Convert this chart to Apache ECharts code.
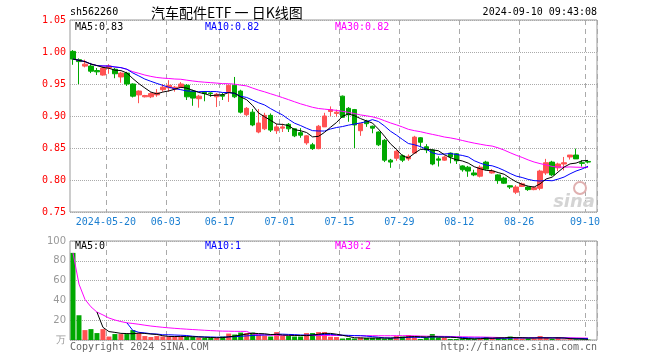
<!DOCTYPE html>
<html><head><meta charset="utf-8">
<script src="https://cdn.jsdelivr.net/npm/echarts@6/dist/echarts.min.js"></script>
<style>html,body{margin:0;padding:0;background:#fff}#c{width:660px;height:360px}</style>
</head><body><div id="c"></div>
<script>
const dates = [
'2024-05-10','2024-05-13','2024-05-14','2024-05-15','2024-05-16','2024-05-17','2024-05-20','2024-05-21','2024-05-22','2024-05-23','2024-05-24','2024-05-27','2024-05-28','2024-05-29','2024-05-30','2024-05-31',
'2024-06-03','2024-06-04','2024-06-05','2024-06-06','2024-06-07','2024-06-11','2024-06-12','2024-06-13','2024-06-14','2024-06-17','2024-06-18','2024-06-19','2024-06-20','2024-06-21','2024-06-24','2024-06-25','2024-06-26','2024-06-27','2024-06-28',
'2024-07-01','2024-07-02','2024-07-03','2024-07-04','2024-07-05','2024-07-08','2024-07-09','2024-07-10','2024-07-11','2024-07-12','2024-07-15','2024-07-16','2024-07-17','2024-07-18','2024-07-19','2024-07-22','2024-07-23','2024-07-24','2024-07-25','2024-07-26','2024-07-29','2024-07-30','2024-07-31',
'2024-08-01','2024-08-02','2024-08-05','2024-08-06','2024-08-07','2024-08-08','2024-08-09','2024-08-12','2024-08-13','2024-08-14','2024-08-15','2024-08-16','2024-08-19','2024-08-20','2024-08-21','2024-08-22','2024-08-23','2024-08-26','2024-08-27','2024-08-28','2024-08-29','2024-08-30',
'2024-09-02','2024-09-03','2024-09-04','2024-09-05','2024-09-06','2024-09-09','2024-09-10'];
const opens = [
1.001,0.988,0.978,0.978,0.971,0.964,0.975,0.973,0.961,0.967,0.950,0.933,0.930,0.930,0.933,0.941,
0.944,0.942,0.945,0.948,0.939,0.927,0.937,0.936,0.930,0.933,0.938,0.948,0.939,0.902,0.906,0.875,0.880,0.901,0.877,
0.881,0.887,0.880,0.874,0.858,0.855,0.849,0.883,0.907,0.904,0.931,0.912,0.910,0.877,0.892,0.884,0.875,0.862,0.831,0.834,0.838,0.833,0.842,
0.866,0.852,0.847,0.833,0.831,0.842,0.841,0.822,0.820,0.811,0.806,0.828,0.811,0.808,0.803,0.791,0.781,0.790,0.789,0.785,0.787,0.811,
0.828,0.819,0.825,0.836,0.839,0.827,0.829];
const closes = [
0.989,0.985,0.981,0.970,0.969,0.975,0.978,0.966,0.967,0.950,0.931,0.939,0.932,0.935,0.936,0.945,
0.948,0.945,0.950,0.930,0.928,0.931,0.935,0.935,0.934,0.931,0.948,0.930,0.906,0.912,0.886,0.889,0.901,0.878,0.883,
0.883,0.880,0.869,0.870,0.869,0.849,0.884,0.900,0.910,0.906,0.898,0.902,0.886,0.888,0.888,0.881,0.855,0.831,0.828,0.845,0.831,0.837,0.867,
0.859,0.847,0.825,0.831,0.836,0.836,0.830,0.816,0.814,0.808,0.820,0.817,0.814,0.799,0.795,0.789,0.789,0.794,0.785,0.788,0.814,0.827,
0.808,0.825,0.827,0.839,0.833,0.826,0.828];
const lows = [
0.980,0.950,0.976,0.967,0.964,0.963,0.966,0.959,0.952,0.947,0.929,0.920,0.929,0.928,0.930,0.938,
0.938,0.938,0.944,0.925,0.916,0.913,0.923,0.930,0.914,0.925,0.922,0.928,0.904,0.900,0.884,0.873,0.878,0.875,0.872,
0.875,0.875,0.867,0.866,0.855,0.847,0.848,0.883,0.900,0.899,0.897,0.891,0.850,0.869,0.883,0.873,0.853,0.828,0.819,0.830,0.828,0.830,0.841,
0.851,0.842,0.823,0.821,0.830,0.826,0.825,0.813,0.805,0.806,0.804,0.816,0.810,0.794,0.794,0.786,0.778,0.789,0.783,0.784,0.784,0.808,
0.806,0.814,0.815,0.832,0.833,0.821,0.826];
const highs = [
1.003,0.990,0.988,0.983,0.975,0.977,0.981,0.975,0.969,0.969,0.951,0.940,0.933,0.937,0.942,0.950,
0.956,0.947,0.953,0.950,0.941,0.933,0.939,0.937,0.936,0.936,0.949,0.961,0.941,0.914,0.911,0.911,0.905,0.904,0.888,
0.888,0.889,0.881,0.881,0.870,0.858,0.886,0.905,0.915,0.910,0.932,0.914,0.911,0.889,0.894,0.885,0.876,0.864,0.833,0.847,0.840,0.840,0.869,
0.867,0.856,0.848,0.837,0.838,0.843,0.842,0.823,0.822,0.816,0.823,0.830,0.817,0.809,0.805,0.792,0.792,0.796,0.790,0.790,0.816,0.833,
0.830,0.827,0.836,0.839,0.849,0.831,0.830];
const volumes = [
88,25,10,11,7,11,3.5,6,6,6,10,7,4,3,4,3.5,
3.5,3.5,3.5,3,3,2.5,2,2,2,3.5,6.5,5.5,7.5,7,7.5,5,4.5,3.5,8,
4,4,3.5,3.5,7,7,8,8,3.3,3,1.5,2,1.5,2.5,2,2,2,1.5,2,4,3.5,5,3,
1,2.5,6,2.5,2,1,1,1.5,1.5,1,1.5,3,2,3,1.5,3.5,2,1.5,1.5,1.5,4,2,
1,2.5,0.5,0.8,0.6,0.7,0.4];
const labelDates = ['2024-05-20','2024-06-03','2024-06-17','2024-07-01','2024-07-15','2024-07-29','2024-08-12','2024-08-26','2024-09-10'];
const priceTicks = {min: 0.75, max: 1.05, step: 0.05};
const volTicks = {min: 0, max: 100, step: 20};

const RED = '#ff5252', GREEN = '#00a800';
const MONO = '"DejaVu Sans Mono", monospace';
const cats = dates.concat(['']);
const labelIdx = labelDates.map(d => dates.indexOf(d));
function ma(arr, n, partial) {
  return arr.map((_, i) => {
    if (!partial && i < n - 1) return null;
    const s = Math.max(0, i - n + 1);
    let sum = 0;
    for (let j = s; j <= i; j++) sum += arr[j];
    return +(sum / (i - s + 1)).toFixed(4);
  });
}
const kdata = dates.map((d, i) => [opens[i], closes[i], lows[i], highs[i]]);
const vdata = volumes.map((v, i) => ({value: v, itemStyle: {color: closes[i] >= opens[i] ? RED : GREEN}}));

const chart = echarts.init(document.getElementById('c'), null, {renderer: 'canvas'});
const grids = [
  {left: 70, top: 20, width: 527, height: 192, show: true, borderColor: '#999', borderWidth: 1, backgroundColor: '#fff'},
  {left: 70, top: 241, width: 527, height: 99, show: true, borderColor: '#999', borderWidth: 1, backgroundColor: '#fff'}
];
function xAx(gi, showLabels) {
  return {
    type: 'category', gridIndex: gi, data: cats, boundaryGap: true,
    axisLine: {show: false}, axisTick: {show: false},
    axisLabel: {
      show: showLabels, interval: (i) => labelIdx.indexOf(i) >= 0,
      formatter: (v, i) => (i === labelIdx[0] ? v : v.slice(5)),
      color: '#1b7fd1', fontFamily: MONO, fontSize: 10, margin: 5, padding: [0, 6, 0, 0],
      showMinLabel: true, showMaxLabel: true, hideOverlap: false
    },
    splitLine: {show: true, interval: (i) => labelIdx.indexOf(i) >= 0,
      lineStyle: {color: '#aaa', type: [5, 4], width: 1}}
  };
}
const option = {
  animation: false,
  backgroundColor: '#fff',
  grid: grids,
  xAxis: [xAx(0, true), xAx(1, false)],
  yAxis: [
    {type: 'value', gridIndex: 0, min: priceTicks.min, max: priceTicks.max, interval: priceTicks.step,
      axisLine: {show: false}, axisTick: {show: false},
      axisLabel: {color: '#ff0000', fontFamily: MONO, fontSize: 10, margin: 4, formatter: v => v.toFixed(2)},
      splitLine: {lineStyle: {color: '#aaa', type: 'dotted', width: 1}}},
    {type: 'value', gridIndex: 1, min: volTicks.min, max: volTicks.max, interval: volTicks.step,
      axisLine: {show: false}, axisTick: {show: false},
      axisLabel: {color: '#999', fontFamily: '"DejaVu Sans", sans-serif', fontSize: 10, margin: 4,
        formatter: v => (v === 0 ? '万' : String(v))},
      splitLine: {lineStyle: {color: '#aaa', type: 'dotted', width: 1}}}
  ],
  series: [
    {type: 'candlestick', xAxisIndex: 0, yAxisIndex: 0, data: kdata, barWidth: 5,
      itemStyle: {color: RED, color0: GREEN, borderColor: RED, borderColor0: GREEN, borderWidth: 1}},
    {type: 'line', xAxisIndex: 0, yAxisIndex: 0, data: ma(closes, 30, true), showSymbol: false, symbol: 'none',
      lineStyle: {color: '#ff00ff', width: 1}, z: 5},
    {type: 'line', xAxisIndex: 0, yAxisIndex: 0, data: ma(closes, 10, true), showSymbol: false, symbol: 'none',
      lineStyle: {color: '#0000ff', width: 1}, z: 6},
    {type: 'line', xAxisIndex: 0, yAxisIndex: 0, data: ma(closes, 5, true), showSymbol: false, symbol: 'none',
      lineStyle: {color: '#000', width: 1}, z: 7},
    {type: 'bar', xAxisIndex: 1, yAxisIndex: 1, data: vdata, barWidth: 5},
    {type: 'line', xAxisIndex: 1, yAxisIndex: 1, data: ma(volumes, 30, true), showSymbol: false, symbol: 'none',
      lineStyle: {color: '#ff00ff', width: 1}, z: 5},
    {type: 'line', xAxisIndex: 1, yAxisIndex: 1, data: ma(volumes, 10, false), showSymbol: false, symbol: 'none',
      lineStyle: {color: '#0000ff', width: 1}, z: 6},
    {type: 'line', xAxisIndex: 1, yAxisIndex: 1, data: ma(volumes, 5, false), showSymbol: false, symbol: 'none',
      lineStyle: {color: '#000', width: 1}, z: 7}
  ],
  graphic: [
    {type: 'text', x: 70, y: 12, style: {text: 'sh562260', font: '10px ' + MONO, fill: '#000', textVerticalAlign: 'middle', verticalAlign: 'middle'}},
    {type: 'text', x: 151, y: 13, style: {text: '汽车配件ETF 一 日K线图', font: '14px "Noto Sans CJK SC"', fill: '#000', textVerticalAlign: 'middle', verticalAlign: 'middle'}},
    {type: 'text', x: 597, y: 12, style: {text: '2024-09-10 09:43:08', font: '10px ' + MONO, fill: '#000', textAlign: 'right', align: 'right', textVerticalAlign: 'middle', verticalAlign: 'middle'}},
    {type: 'text', x: 75, y: 27, z: 100, style: {text: 'MA5:0.83', font: '10px ' + MONO, fill: '#000', textVerticalAlign: 'middle', verticalAlign: 'middle'}},
    {type: 'text', x: 205, y: 27, z: 100, style: {text: 'MA10:0.82', font: '10px ' + MONO, fill: '#0000ff', textVerticalAlign: 'middle', verticalAlign: 'middle'}},
    {type: 'text', x: 335, y: 27, z: 100, style: {text: 'MA30:0.82', font: '10px ' + MONO, fill: '#ff00ff', textVerticalAlign: 'middle', verticalAlign: 'middle'}},
    {type: 'text', x: 75, y: 246, z: 100, style: {text: 'MA5:0', font: '10px ' + MONO, fill: '#000', textVerticalAlign: 'middle', verticalAlign: 'middle'}},
    {type: 'text', x: 205, y: 246, z: 100, style: {text: 'MA10:1', font: '10px ' + MONO, fill: '#0000ff', textVerticalAlign: 'middle', verticalAlign: 'middle'}},
    {type: 'text', x: 335, y: 246, z: 100, style: {text: 'MA30:2', font: '10px ' + MONO, fill: '#ff00ff', textVerticalAlign: 'middle', verticalAlign: 'middle'}},
    {type: 'text', x: 70, y: 347, style: {text: 'Copyright 2024 SINA.COM', font: '10px ' + MONO, fill: '#666', textVerticalAlign: 'middle', verticalAlign: 'middle'}},
    {type: 'text', x: 597, y: 347, style: {text: 'http://finance.sina.com.cn', font: '10px ' + MONO, fill: '#666', textAlign: 'right', align: 'right', textVerticalAlign: 'middle', verticalAlign: 'middle'}},
    {type: 'text', x: 595, y: 202, z: 1, style: {text: 'sina', font: 'italic bold 18px "DejaVu Sans"', fill: '#d4d4d4', textAlign: 'right', align: 'right', textVerticalAlign: 'middle', verticalAlign: 'middle'}},
    {type: 'circle', shape: {cx: 580, cy: 188, r: 6}, z: 1, style: {fill: 'none', stroke: '#e0b0b0', lineWidth: 2}}
  ]
};
chart.setOption(option);
</script></body></html>
